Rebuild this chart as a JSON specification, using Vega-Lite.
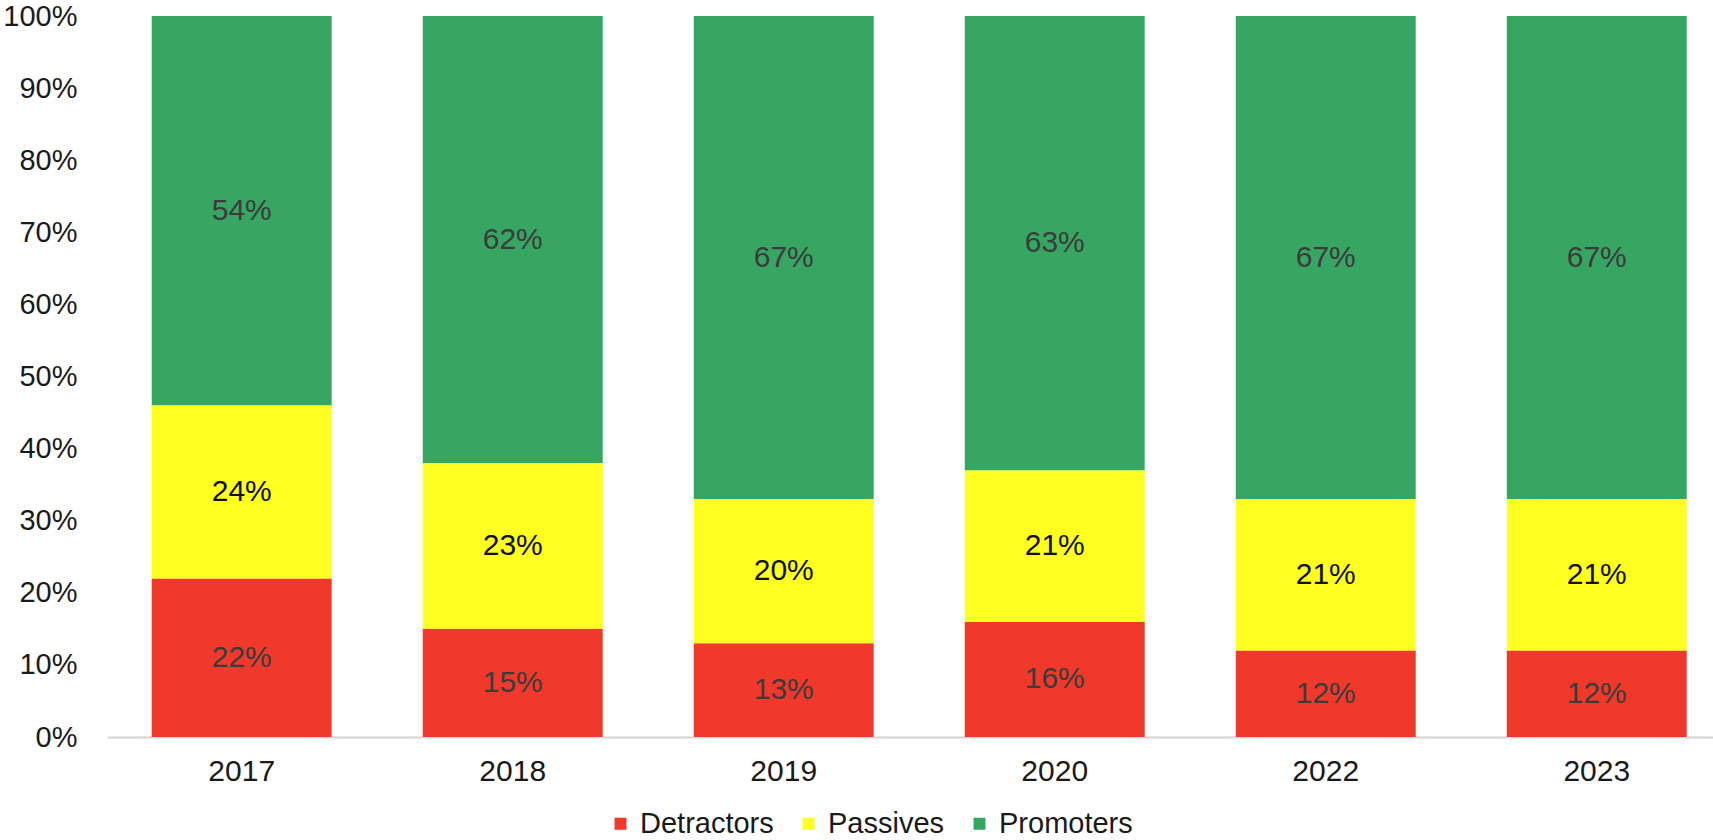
{
  "$schema": "https://vega.github.io/schema/vega-lite/v6.json",
  "autosize": {"type": "none"},
  "padding": {"left": 107, "top": 16, "right": 0, "bottom": 103},
  "width": 1606,
  "height": 721,
  "background": "white",
  "config": {
    "view": {"stroke": null},
    "font": "Liberation Sans"
  },
  "data": {
    "values": [
      {"year": "2017", "group": "Detractors", "value": 22},
      {"year": "2017", "group": "Passives", "value": 24},
      {"year": "2017", "group": "Promoters", "value": 54},
      {"year": "2018", "group": "Detractors", "value": 15},
      {"year": "2018", "group": "Passives", "value": 23},
      {"year": "2018", "group": "Promoters", "value": 62},
      {"year": "2019", "group": "Detractors", "value": 13},
      {"year": "2019", "group": "Passives", "value": 20},
      {"year": "2019", "group": "Promoters", "value": 67},
      {"year": "2020", "group": "Detractors", "value": 16},
      {"year": "2020", "group": "Passives", "value": 21},
      {"year": "2020", "group": "Promoters", "value": 63},
      {"year": "2022", "group": "Detractors", "value": 12},
      {"year": "2022", "group": "Passives", "value": 21},
      {"year": "2022", "group": "Promoters", "value": 67},
      {"year": "2023", "group": "Detractors", "value": 12},
      {"year": "2023", "group": "Passives", "value": 21},
      {"year": "2023", "group": "Promoters", "value": 67}
    ]
  },
  "transform": [
    {"stack": "value", "groupby": ["year"], "sort": [{"field": "group", "order": "ascending"}], "as": ["v0", "v1"]},
    {"calculate": "(datum.v0 + datum.v1) / 2", "as": "vmid"},
    {"calculate": "datum.value + '%'", "as": "label"}
  ],
  "encoding": {
    "x": {
      "field": "year",
      "type": "ordinal",
      "scale": {"paddingInner": 0.336, "paddingOuter": 0.131, "align": 0.63},
      "axis": {
        "title": null,
        "labelAngle": 0,
        "labelFontSize": 30,
        "labelColor": "#1a1a1a",
        "labelPadding": 19,
        "ticks": false,
        "domainColor": "#d4d4d4",
        "domainWidth": 2
      }
    }
  },
  "layer": [
    {
      "mark": {"type": "bar"},
      "encoding": {
        "y": {
          "field": "v0",
          "type": "quantitative",
          "scale": {"domain": [0, 100], "nice": false},
          "axis": {
            "title": null,
            "values": [0, 10, 20, 30, 40, 50, 60, 70, 80, 90, 100],
            "labelExpr": "datum.value + '%'",
            "labelFontSize": 29,
            "labelColor": "#1a1a1a",
            "labelPadding": 30,
            "ticks": false,
            "domain": false,
            "grid": false
          }
        },
        "y2": {"field": "v1"},
        "color": {
          "field": "group",
          "type": "nominal",
          "scale": {
            "domain": ["Detractors", "Passives", "Promoters"],
            "range": ["#f0392a", "#ffff22", "#37a663"]
          },
          "legend": {
            "title": null,
            "orient": "none",
            "direction": "horizontal",
            "legendX": 499,
            "legendY": 793,
            "symbolType": "square",
            "symbolSize": 144,
            "symbolStrokeWidth": 0,
            "symbolOpacity": 1,
            "labelFontSize": 29,
            "labelColor": "#1a1a1a",
            "labelOffset": 5,
            "columnPadding": 20
          }
        }
      }
    },
    {
      "mark": {"type": "text", "fontSize": 30, "baseline": "middle", "align": "center"},
      "encoding": {
        "y": {"field": "vmid", "type": "quantitative"},
        "text": {"field": "label"},
        "color": {
          "condition": {"test": "datum.group === 'Passives'", "value": "#111111"},
          "value": "#3b3b3b"
        }
      }
    }
  ]
}
